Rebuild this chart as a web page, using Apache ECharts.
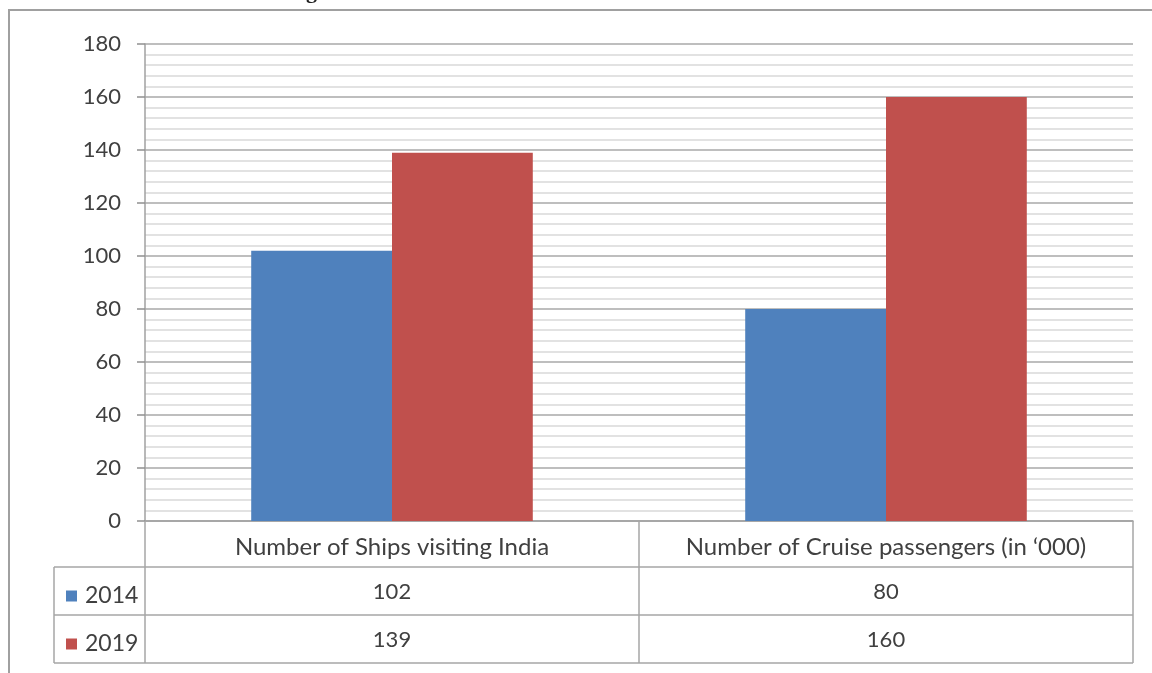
<!DOCTYPE html>
<html>
<head>
<meta charset="utf-8">
<script src="https://cdn.jsdelivr.net/npm/echarts@6/dist/echarts.min.js"></script>
<style>
  html, body { margin: 0; padding: 0; background: #fff; }
  #chart { width: 1152px; height: 673px; }
</style>
</head>
<body>
<div id="chart"></div>
<script>
// Chart data
const categories = ['Number of Ships visiting India', 'Number of Cruise passengers (in \u2018000)'];
const seriesNames = ['2014', '2019'];
const values2014 = [102, 80];
const values2019 = [139, 160];
const yMin = 0, yMax = 180, yStep = 20;

// Layout
const FONT = 'Lato, "Open Sans", sans-serif';
const TEXT = '#404040';
const GRID = { left: 145, right: 19, top: 44, bottom: 152 };
const W = 1152, H = 673;
const plotBottom = H - GRID.bottom;      // y of the zero line
const plotRight = W - GRID.right;
const rowH = 48;                           // data table row height
const catRowH = 46;
const tableLeft = 54;
const row1Top = plotBottom + catRowH;
const row2Top = row1Top + rowH;
const tableBottom = row2Top + rowH;

const colors = ['#4f81bd', '#c0504d'];
const seriesValues = [values2014, values2019];

const chart = echarts.init(document.getElementById('chart'), null, { renderer: 'canvas' });

const option = {
  animation: false,
  backgroundColor: '#fff',
  textStyle: { fontFamily: FONT },
  grid: GRID,
  legend: {
    orient: 'vertical',
    left: 61,
    top: row1Top + 12,
    itemGap: rowH - 24,
    itemWidth: 11,
    itemHeight: 11,
    icon: 'rect',
    selectedMode: false,
    textStyle: { fontFamily: FONT, fontSize: 23, color: TEXT, lineHeight: 24, padding: [0, 0, 0, 3] },
    data: seriesNames
  },
  xAxis: {
    type: 'category',
    data: categories,
    axisLine: { show: true, lineStyle: { color: '#a0a0a0', width: 1.5 } },
    axisTick: { show: true, interval: 0, length: tableBottom - plotBottom, lineStyle: { color: '#a6a6a6', width: 1.5 } },
    axisLabel: { interval: 0, hideOverlap: false, fontFamily: FONT, fontSize: 24, color: TEXT, margin: 14 },
    splitLine: { show: false }
  },
  yAxis: {
    type: 'value',
    min: yMin,
    max: yMax,
    interval: yStep,
    minorTick: { show: false, splitNumber: 5 },
    axisLine: { show: true, lineStyle: { color: '#a0a0a0', width: 1.5 } },
    axisTick: { show: true, length: 8, lineStyle: { color: '#909090', width: 1.5 } },
    axisLabel: { fontFamily: FONT, fontSize: 22, color: TEXT, margin: 24 },
    splitLine: { show: true, lineStyle: { color: '#a8a8a8', width: 1.5 } },
    minorSplitLine: { show: true, lineStyle: { color: '#d9d9d9', width: 1.5 } }
  },
  series: seriesNames.map((name, i) => ({
    name,
    type: 'bar',
    data: seriesValues[i],
    itemStyle: { color: colors[i] },
    barGap: '0%',
    barCategoryGap: '43%',
    z: 3
  }))
};
chart.setOption(option);

// Data table: grid lines and value cells
const graphics = [];
const lineStyle = { stroke: '#a6a6a6', lineWidth: 1.5 };
[row1Top, row2Top, tableBottom].forEach(y => {
  graphics.push({ type: 'line', shape: { x1: tableLeft, y1: y, x2: plotRight, y2: y }, style: lineStyle, z: 10 });
});
graphics.push({ type: 'line', shape: { x1: tableLeft, y1: row1Top, x2: tableLeft, y2: tableBottom }, style: lineStyle, z: 10 });

seriesValues.forEach((vals, r) => {
  const cy = row1Top + rowH * r + rowH / 2 + 1;
  vals.forEach((v, c) => {
    const cx = chart.convertToPixel({ xAxisIndex: 0 }, categories[c]);
    graphics.push({
      type: 'text', x: cx, y: cy, z: 10,
      style: { text: String(v), font: '22px ' + FONT, fill: TEXT, align: 'center', verticalAlign: 'middle' }
    });
  });
});

// Outer frame of the figure and the clipped heading above it
graphics.push({ type: 'rect', shape: { x: 9, y: 10, width: W + 20, height: H + 20 }, style: { fill: 'none', stroke: '#a0a0a0', lineWidth: 2 }, z: 20 });
graphics.push({ type: 'text', x: 306, y: -19, z: 20, style: { text: 'g', font: 'bold 22px "Liberation Serif", serif', fill: '#222' } });

chart.setOption({ graphic: graphics });
</script>
</body>
</html>
